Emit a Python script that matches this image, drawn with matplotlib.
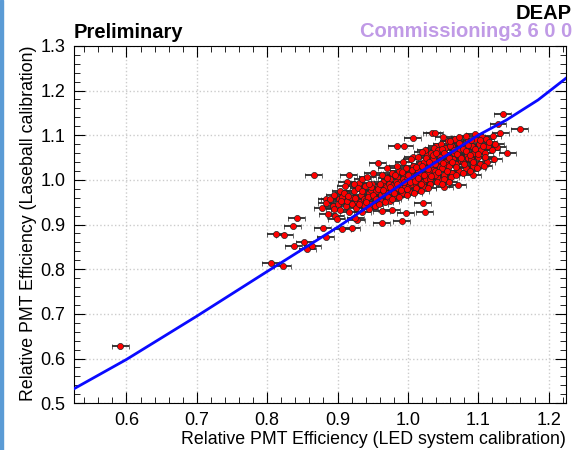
import matplotlib.pyplot as plt
import matplotlib.patches as mpatches
from matplotlib.ticker import MultipleLocator, FormatStrFormatter

plt.rcParams['font.family'] = ['Liberation Sans', 'DejaVu Sans']

# PMT efficiencies: (LED system, laserball)
points = [
    (0.591, 0.627),
    (0.805, 0.815), (0.822, 0.808), (0.812, 0.878), (0.824, 0.876),
    (0.842, 0.915), (0.836, 0.897), (0.838, 0.853), (0.853, 0.860),
    (0.857, 0.846), (0.864, 0.852), (0.866, 1.010), (0.883, 0.873),
    (0.879, 0.893), (0.884, 0.957), (0.902, 0.957), (0.916, 1.011),
    (0.913, 0.995), (0.907, 0.890), (0.920, 0.892), (0.927, 0.910),
    (0.963, 0.930), (0.977, 0.932), (0.997, 0.926), (0.963, 0.903),
    (0.991, 0.908), (0.925, 0.914), (1.021, 0.948), (1.024, 0.928),
    (0.957, 1.038), (0.950, 1.015), (0.970, 1.026), (0.931, 0.993),
    (1.007, 1.094), (1.034, 1.105), (0.995, 1.076), (0.984, 1.076),
    (1.040, 1.076), (1.007, 1.051), (0.993, 1.040), (1.135, 1.148),
    (1.128, 1.125), (1.159, 1.114), (1.038, 1.105), (1.131, 1.105),
    (1.141, 1.060), (1.127, 1.074), (1.109, 1.049), (1.099, 1.029),
    (1.092, 1.011), (1.071, 0.988), (1.052, 0.984), (1.045, 1.000),
    (0.878, 0.936), (0.884, 0.948), (0.886, 0.924), (0.893, 0.941),
    (0.889, 0.957), (0.897, 0.919), (0.895, 0.966), (0.903, 0.932),
    (0.901, 0.946), (0.906, 0.961), (0.904, 0.976), (0.899, 0.913),
    (0.912, 0.942), (0.914, 0.953), (0.909, 0.971), (0.916, 0.927),
    (0.911, 0.986), (0.921, 0.947), (0.918, 0.962), (0.924, 0.974),
    (0.926, 0.936), (0.923, 0.991), (0.928, 0.952), (0.932, 0.951),
    (0.934, 0.966), (0.929, 0.981), (0.937, 0.943), (0.935, 1.001),
    (0.938, 0.957), (0.941, 0.956), (0.944, 0.971), (0.939, 0.986),
    (0.946, 0.946), (0.943, 0.961), (0.948, 0.977), (0.942, 1.006),
    (0.952, 0.962), (0.954, 0.975), (0.949, 0.991), (0.956, 0.951),
    (0.951, 0.966), (0.957, 0.983), (0.953, 0.942), (0.962, 0.966),
    (0.958, 0.979), (0.964, 0.996), (0.961, 0.956), (0.966, 0.972),
    (0.963, 1.011), (0.968, 0.987), (0.959, 0.947), (0.972, 0.971),
    (0.969, 0.984), (0.974, 1.001), (0.971, 0.961), (0.976, 0.976),
    (0.973, 0.991), (0.977, 1.016), (0.975, 0.952), (0.982, 0.976),
    (0.979, 0.989), (0.984, 1.006), (0.981, 0.966), (0.986, 0.981),
    (0.983, 0.996), (0.987, 1.021), (0.978, 0.957), (0.985, 1.031),
    (0.992, 0.981), (0.989, 0.996), (0.994, 1.011), (0.991, 0.971),
    (0.996, 0.986), (0.993, 1.002), (0.997, 1.026), (0.988, 0.962),
    (1.002, 0.986), (0.999, 1.001), (1.004, 1.016), (1.001, 0.976),
    (1.006, 0.991), (1.003, 1.006), (1.007, 1.031), (0.998, 0.966),
    (1.005, 1.046), (1.012, 0.991), (1.009, 1.006), (1.014, 1.021),
    (1.011, 0.981), (1.016, 0.996), (1.013, 1.011), (1.017, 1.036),
    (1.008, 0.971), (1.015, 1.051), (1.022, 0.996), (1.019, 1.011),
    (1.024, 1.026), (1.021, 0.986), (1.026, 1.001), (1.023, 1.041),
    (1.027, 1.056), (1.018, 0.976), (1.025, 1.066), (1.032, 1.001),
    (1.029, 1.016), (1.034, 1.031), (1.031, 0.991), (1.036, 1.046),
    (1.033, 1.061), (1.028, 0.981), (1.037, 1.071), (1.035, 1.022),
    (1.042, 1.006), (1.039, 1.021), (1.044, 1.036), (1.041, 0.996),
    (1.046, 1.051), (1.043, 1.066), (1.047, 1.081), (1.038, 1.012),
    (1.045, 1.028), (1.052, 1.011), (1.049, 1.026), (1.054, 1.041),
    (1.051, 1.001), (1.056, 1.056), (1.053, 1.071), (1.057, 1.086),
    (1.048, 0.991), (1.055, 1.033), (1.062, 1.016), (1.059, 1.031),
    (1.064, 1.046), (1.061, 1.006), (1.066, 1.061), (1.063, 1.076),
    (1.067, 1.091), (1.058, 0.996), (1.065, 1.038), (1.072, 1.021),
    (1.069, 1.036), (1.074, 1.051), (1.071, 1.066), (1.076, 1.081),
    (1.073, 1.096), (1.068, 1.011), (1.075, 1.043), (1.082, 1.026),
    (1.079, 1.041), (1.084, 1.056), (1.081, 1.071), (1.086, 1.086),
    (1.083, 1.099), (1.078, 1.016), (1.085, 1.049), (1.092, 1.031),
    (1.089, 1.046), (1.094, 1.061), (1.091, 1.076), (1.096, 1.091),
    (1.088, 1.021), (1.095, 1.102), (1.102, 1.036), (1.099, 1.051),
    (1.104, 1.066), (1.101, 1.081), (1.106, 1.096), (1.098, 1.026),
    (1.112, 1.041), (1.109, 1.061), (1.114, 1.076), (1.111, 1.091),
    (1.108, 1.031), (1.122, 1.046), (1.119, 1.066), (1.124, 1.081),
    (1.121, 1.099),
    (0.947, 0.985), (0.955, 0.958), (0.960, 0.990), (0.965, 0.978),
    (0.967, 0.950), (0.970, 1.005), (0.975, 0.985), (0.980, 0.970),
    (0.982, 1.012), (0.985, 0.990), (0.990, 0.978), (0.992, 1.018),
    (0.995, 0.995), (0.998, 0.980), (1.000, 1.010), (1.003, 0.995),
    (1.006, 1.022), (1.010, 0.998), (1.012, 1.028), (1.015, 1.005),
    (1.018, 0.990), (1.020, 1.030), (1.023, 1.010), (1.026, 1.048),
    (1.028, 1.025), (1.030, 1.040), (1.033, 1.008), (1.035, 1.055),
    (1.038, 1.035), (1.040, 1.060), (1.043, 1.018), (1.045, 1.045),
    (1.048, 1.070), (1.050, 1.038), (1.052, 1.060), (1.055, 1.020),
    (1.058, 1.050), (1.060, 1.075), (1.062, 1.040), (1.065, 1.068),
    (1.068, 1.028), (1.070, 1.058), (1.073, 1.082), (1.076, 1.048),
    (1.078, 1.070), (1.080, 1.035), (1.083, 1.065), (1.086, 1.078),
    (1.088, 1.055), (1.090, 1.090), (1.093, 1.040), (1.096, 1.070),
    (1.100, 1.058), (1.103, 1.090), (1.107, 1.075), (1.110, 1.052),
    (1.115, 1.085), (0.925, 0.960), (0.930, 0.945), (0.935, 0.975),
    (0.940, 0.950), (0.945, 0.990), (0.915, 0.965), (0.905, 0.952),
    (0.895, 0.935), (0.935, 0.928), (0.945, 0.935), (1.060, 1.088),
    (1.050, 1.095), (1.020, 1.062),
]
led_eff = [p[0] for p in points]
laser_eff = [p[1] for p in points]
led_err = 0.012

# fitted line
fit_x = [0.525, 0.6, 0.7, 0.8, 0.9, 1.0, 1.1, 1.14, 1.185, 1.225]
fit_y = [0.532, 0.598, 0.695, 0.795, 0.894, 1.0, 1.100, 1.134, 1.179, 1.228]

fig = plt.figure(figsize=(5.76, 4.5), dpi=100)
ax = fig.add_axes([0.128, 0.104, 0.855, 0.794])

ax.errorbar(led_eff, laser_eff, xerr=led_err, fmt='o', color='red',
            markersize=4.4, markeredgecolor='#222222', markeredgewidth=0.5,
            ecolor='#2a2a2a', elinewidth=1.3, capsize=1.8, zorder=3)
ax.plot(fit_x, fit_y, color='#0a0aff', lw=2, zorder=4)

ax.set_xlim(0.525, 1.225)
ax.set_ylim(0.5, 1.3)
ax.xaxis.set_major_locator(MultipleLocator(0.1))
ax.xaxis.set_minor_locator(MultipleLocator(0.02))
ax.yaxis.set_major_locator(MultipleLocator(0.1))
ax.yaxis.set_minor_locator(MultipleLocator(0.02))
ax.xaxis.set_major_formatter(FormatStrFormatter('%.1f'))
ax.yaxis.set_major_formatter(FormatStrFormatter('%.1f'))
ax.tick_params(which='both', direction='in', top=True, right=True, labelsize=13)
ax.tick_params(which='major', length=8, pad=6)
ax.tick_params(which='minor', length=4)
ax.grid(True, which='major', color='#cccccc', linestyle=':', lw=1)
ax.set_axisbelow(True)

ax.set_xlabel('Relative PMT Efficiency (LED system calibration)', fontsize=12.8,
              loc='right', labelpad=2)
ax.set_ylabel('Relative PMT Efficiency (Laseball calibration)', fontsize=12.8,
              loc='top', labelpad=2)

fig.text(0.128, 0.916, 'Preliminary', fontsize=14.5, fontweight='bold')
fig.text(0.993, 0.957, 'DEAP', fontsize=14.5, fontweight='bold', ha='right')
fig.text(0.993, 0.918, 'Commissioning3 6 0 0', fontsize=14.5, fontweight='bold',
         ha='right', color='#c09ae6')

# blue frame strip on the left edge
fig.patches.append(mpatches.Rectangle((0, 0), 0.006, 1, transform=fig.transFigure,
                                      color='#5b9bd5', zorder=10))

fig.savefig('out.png', dpi=100)
